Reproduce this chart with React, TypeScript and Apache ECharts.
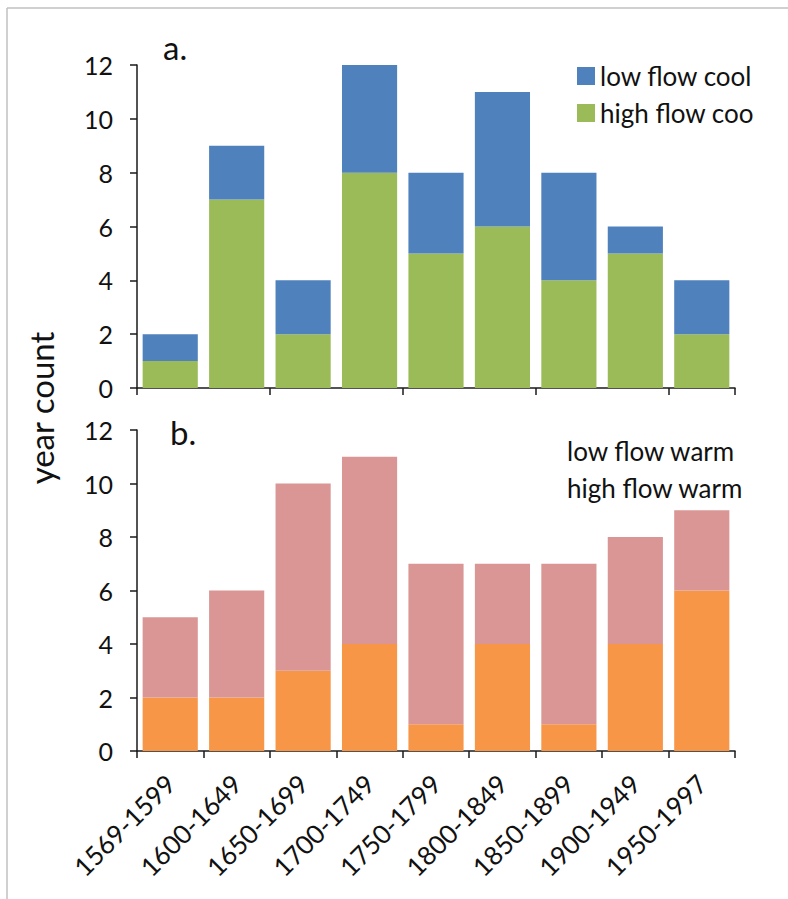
import React, { useEffect, useRef } from "react";
import * as echarts from "echarts";

const categories = ["1569-1599", "1600-1649", "1650-1699", "1700-1749", "1750-1799", "1800-1849", "1850-1899", "1900-1949", "1950-1997"];
const highFlowCool = [1, 7, 2, 8, 5, 6, 4, 5, 2];
const lowFlowCool = [1, 2, 2, 4, 3, 5, 4, 1, 2];
const highFlowWarm = [2, 2, 3, 4, 1, 4, 1, 4, 6];
const lowFlowWarm = [3, 4, 7, 7, 6, 3, 6, 4, 3];
const yTicks = [0, 2, 4, 6, 8, 10, 12];

const FONT = "Lato, 'Open Sans', sans-serif";
const AX = "#1a1a1a";

export default function App() {
  const ref = useRef<HTMLDivElement>(null);
  useEffect(() => {
    if (!ref.current) return;
    const chart = echarts.init(ref.current, undefined, { renderer: "svg" });
    const yAxisBase = {
      type: "value",
      min: yTicks[0],
      max: yTicks[yTicks.length - 1],
      interval: 2,
      axisLine: { show: true, lineStyle: { color: AX, width: 1.5 } },
      axisTick: { show: true, length: 7, lineStyle: { color: AX, width: 1.5 } },
      axisLabel: { margin: 24, fontSize: 25, color: "#111", fontFamily: FONT },
      splitLine: { show: false },
    };
    const xAxisBase = {
      type: "category",
      data: categories,
      axisLine: { show: true, lineStyle: { color: AX, width: 1.5 } },
      axisTick: { show: true, length: 7, lineStyle: { color: AX, width: 1.5 } },
    };
    chart.setOption({
      animation: false,
      backgroundColor: "#fff",
      textStyle: { fontFamily: FONT },
      grid: [
        { left: 137, right: 53, top: 65, height: 323 },
        { left: 137, right: 53, top: 430, height: 321 },
      ],
      xAxis: [
        { ...xAxisBase, gridIndex: 0, axisLabel: { show: false } },
        {
          ...xAxisBase,
          gridIndex: 1,
          axisLabel: { rotate: 45, margin: 28, fontSize: 26, color: "#111", fontFamily: FONT, interval: 0 },
        },
      ],
      yAxis: [
        { ...yAxisBase, gridIndex: 0 },
        { ...yAxisBase, gridIndex: 1 },
      ],
      legend: [
        {
          data: ["low flow cool", "high flow coo"],
          orient: "vertical",
          left: 572,
          top: 58,
          itemWidth: 18,
          itemHeight: 18,
          itemGap: 11,
          icon: "rect",
          textStyle: { fontSize: 26, color: "#111", fontFamily: FONT },
        },
        {
          data: ["low flow warm", "high flow warm"],
          orient: "vertical",
          left: 557,
          top: 433,
          itemWidth: 0,
          itemHeight: 18,
          itemGap: 11,
          icon: "none",
          textStyle: { fontSize: 26, color: "#111", fontFamily: FONT },
        },
      ],
      series: [
        { name: "high flow coo", type: "bar", stack: "a", xAxisIndex: 0, yAxisIndex: 0, data: highFlowCool, barCategoryGap: "17%", itemStyle: { color: "#9BBB59" } },
        { name: "low flow cool", type: "bar", stack: "a", xAxisIndex: 0, yAxisIndex: 0, data: lowFlowCool, barCategoryGap: "17%", itemStyle: { color: "#4F81BD" } },
        { name: "high flow warm", type: "bar", stack: "b", xAxisIndex: 1, yAxisIndex: 1, data: highFlowWarm, barCategoryGap: "17%", itemStyle: { color: "#F79646" } },
        { name: "low flow warm", type: "bar", stack: "b", xAxisIndex: 1, yAxisIndex: 1, data: lowFlowWarm, barCategoryGap: "17%", itemStyle: { color: "#D99694" } },
      ],
      graphic: [
        { type: "line", shape: { x1: 7, y1: 8, x2: 788, y2: 8 }, style: { stroke: "#c0c0c0", lineWidth: 1.5 } },
        { type: "line", shape: { x1: 7, y1: 8, x2: 7, y2: 899 }, style: { stroke: "#c0c0c0", lineWidth: 1.5 } },
        { type: "text", left: 163, top: 30, style: { text: "a.", fontSize: 33, fill: "#111", fontFamily: FONT } },
        { type: "text", left: 170, top: 415, style: { text: "b.", fontSize: 33, fill: "#111", fontFamily: FONT } },
        {
          type: "text",
          x: 41,
          y: 408,
          rotation: Math.PI / 2,
          style: { text: "year count", fontSize: 33, fill: "#111", fontFamily: FONT, align: "center", verticalAlign: "middle" },
        },
      ],
    });
    return () => chart.dispose();
  }, []);
  return <div ref={ref} style={{ position: "absolute", left: 0, top: 0, width: 788, height: 899 }} />;
}
